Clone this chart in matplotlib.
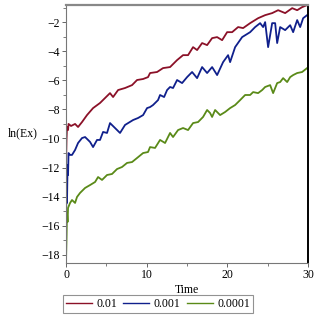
import matplotlib
matplotlib.use('Agg')
from matplotlib import pyplot as plt
from matplotlib.ticker import MultipleLocator

# values
t_red = [0, 0.06, 0.12, 0.25, 0.31, 0.62, 0.87, 1.12, 1.49, 1.98, 2.60, 3.35, 4.21, 4.83,
         5.45, 5.83, 6.45, 7.31, 8.18, 8.80, 9.55, 10.16, 10.41, 11.28, 12.02, 12.89, 13.76,
         14.50, 15.12, 15.74, 16.24, 16.86, 17.48, 18.10, 18.72, 19.34, 19.96, 20.58, 21.32,
         21.94, 22.81, 23.80, 24.67, 25.54, 26.28, 27.15, 28.02, 28.64, 29.25, 29.87]
y_red = [-11.82, -10.10, -9.21, -9.42, -9.0, -9.14, -9.07, -9.0, -9.21, -8.87, -8.39, -7.91,
         -7.56, -7.22, -6.88, -7.15, -6.67, -6.53, -6.33, -5.98, -5.91, -5.78, -5.50, -5.43,
         -5.16, -5.09, -4.61, -4.27, -4.27, -3.72, -3.92, -3.44, -3.58, -3.10, -3.03, -3.24,
         -2.69, -2.69, -2.34, -2.41, -2.07, -1.73, -1.52, -1.38, -1.18, -1.38, -1.04, -1.18,
         -0.97, -0.83]

t_blue = [0, 0.06, 0.12, 0.19, 0.25, 0.31, 0.5, 0.74, 1.12, 1.49, 1.98, 2.36, 2.73, 2.98,
          3.35, 3.84, 4.21, 4.59, 5.08, 5.45, 6.07, 6.69, 7.31, 8.31, 8.93, 9.55, 10.04,
          10.41, 10.78, 11.40, 11.65, 12.15, 12.52, 12.89, 13.26, 13.76, 14.38, 15.0, 15.62,
          16.24, 16.86, 17.48, 18.10, 18.72, 19.46, 20.08, 20.33, 20.95, 21.82, 22.81, 23.43,
          24.05, 24.42, 24.67, 25.04, 25.54, 25.91, 26.16, 26.53, 27.15, 27.77, 28.14, 28.64,
          29.01, 29.38, 29.87]
y_blue = [-15.26, -13.54, -14.43, -11.82, -12.51, -11.0, -11.13, -11.13, -10.79, -10.31,
          -9.97, -9.9, -10.10, -10.24, -10.59, -10.10, -10.10, -9.55, -9.62, -8.94, -9.28,
          -9.62, -9.07, -8.73, -8.59, -8.39, -7.91, -7.84, -7.70, -7.36, -7.01, -7.15, -6.67,
          -6.46, -6.53, -5.98, -6.19, -5.78, -5.43, -5.85, -5.09, -5.50, -5.09, -5.64, -4.75,
          -4.27, -4.75, -3.72, -3.03, -2.69, -2.34, -2.07, -2.34, -2.0, -3.72, -2.07, -2.07,
          -3.44, -2.34, -2.55, -2.21, -2.69, -1.86, -2.34, -1.73, -1.52]

t_green = [0, 0.06, 0.12, 0.19, 0.25, 0.50, 0.74, 1.12, 1.36, 1.74, 2.36, 2.98, 3.60, 3.97,
           4.46, 5.08, 5.70, 6.32, 6.94, 7.56, 8.18, 8.80, 9.55, 10.16, 10.41, 11.03, 11.65,
           12.27, 12.89, 13.26, 13.88, 14.50, 15.12, 15.74, 16.36, 16.98, 17.48, 17.85, 18.10,
           18.47, 19.09, 19.71, 20.33, 20.95, 21.57, 22.19, 22.81, 23.18, 23.80, 24.30, 24.67,
           25.29, 25.66, 26.16, 26.53, 26.90, 27.40, 27.77, 28.14, 28.64, 29.25, 29.87]
y_green = [-18.35, -16.97, -15.12, -15.74, -14.77, -14.43, -14.23, -14.43, -14.02, -13.74,
           -13.40, -13.20, -12.99, -12.65, -12.85, -12.51, -12.44, -12.10, -11.96, -11.68,
           -11.62, -11.34, -11.0, -10.93, -10.59, -10.65, -10.10, -10.31, -9.62, -9.90, -9.42,
           -9.28, -9.42, -8.94, -8.87, -8.52, -8.04, -8.25, -8.52, -8.04, -8.39, -8.18, -7.91,
           -7.70, -7.36, -7.01, -7.01, -6.81, -6.88, -6.67, -6.46, -6.33, -6.88, -6.19, -6.12,
           -5.85, -6.12, -5.78, -5.64, -5.50, -5.43, -5.16]

labels = ['0.01', '0.001', '0.0001']
colors = ['#8b1128', '#10208c', '#5a8a18']

plt.rcParams['font.family'] = ['Liberation Serif', 'DejaVu Serif']

fig = plt.figure(figsize=(3.19, 3.19), dpi=100)
ax = fig.add_axes([0.207, 0.176, 0.759, 0.808])

for t, y, lab, c in zip([t_red, t_blue, t_green], [y_red, y_blue, y_green], labels, colors):
    ax.plot(t, y, color=c, lw=1.3, label=lab)

ax.set_xlim(0, 30)
ax.set_ylim(-18.55, -0.83)
ax.xaxis.set_major_locator(MultipleLocator(10))
ax.xaxis.set_minor_locator(MultipleLocator(5))
ax.yaxis.set_major_locator(MultipleLocator(2))
ax.yaxis.set_minor_locator(MultipleLocator(1))
ax.tick_params(which='major', length=3, width=0.7, color='#666666', labelsize=8.5, pad=1.5)
ax.tick_params(which='minor', length=2, width=0.6, color='#666666')

for s in ['left', 'bottom']:
    ax.spines[s].set_color('#777777')
    ax.spines[s].set_linewidth(0.8)
ax.spines['top'].set_color('#888888')
ax.spines['top'].set_linewidth(1.6)
ax.spines['right'].set_color('black')
ax.spines['right'].set_linewidth(1.4)

ax.set_xlabel('Time', fontsize=8.5, labelpad=2)
fig.text(0.07, 0.583, 'ln(Ex)', fontsize=8.5, ha='center', va='center')

leg = fig.legend(loc='center', bbox_to_anchor=(0.495, 0.0475), ncol=3, fontsize=8.5,
                 frameon=True, fancybox=False, handlelength=2.2, handletextpad=0.4,
                 columnspacing=0.5, borderpad=0.25, borderaxespad=0)
leg.get_frame().set_edgecolor('#777777')
leg.get_frame().set_linewidth(0.8)
for line in leg.get_lines():
    line.set_linewidth(1.0)

fig.savefig('out.png', dpi=100)
